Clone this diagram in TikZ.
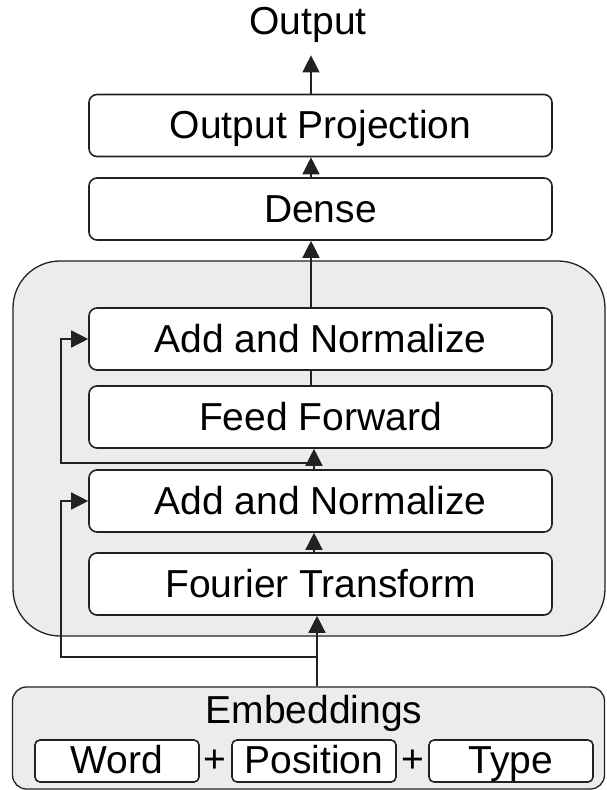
\documentclass[tikz,border=0pt]{standalone}
\usepackage{fontspec}
\setmainfont{Liberation Sans}
\usetikzlibrary{arrows.meta}
\definecolor{blockgray}{HTML}{ECECEC}
\definecolor{linegray}{HTML}{222222}

\begin{document}
\begin{tikzpicture}[x=1pt,y=-1pt,>={Triangle[length=17pt,width=17pt]},->,
  line width=1.4pt,every edge/.append style={draw=linegray},
  main node/.style={rectangle,rounded corners=8pt,draw=linegray,fill=white,line width=1.6pt,
    minimum width=463pt,minimum height=62pt,text height=28pt,text depth=2pt,
    font=\fontsize{39}{45}\selectfont},
  small node/.style={rectangle,rounded corners=5pt,draw=linegray,fill=white,line width=1.6pt,
    minimum width=164pt,minimum height=42pt,inner sep=0pt,text height=28pt,text depth=4pt,
    font=\fontsize{39}{45}\selectfont},
  text node/.style={font=\fontsize{39}{45}\selectfont}]

  \useasboundingbox (0,0) rectangle (607,790);

  % mixing block
  \draw[-,fill=blockgray,draw=linegray,line width=1.3pt,rounded corners=47pt]
    (13,261) rectangle (605,636);

  \node[text node,inner sep=12pt] (out) at (308,25) {Output};
  \node[main node] (proj) at (320.5,125.5) {Output Projection};
  \node[main node] (dense) at (320.5,209) {Dense};
  \node[main node] (an2) at (320.5,339) {Add and Normalize};
  \node[main node] (ff) at (320.5,417) {Feed Forward};
  \node[main node] (an1) at (320.5,501) {Add and Normalize};
  \node[main node] (fft) at (320.5,584) {Fourier Transform};

  % embeddings
  \node[draw=linegray,fill=blockgray,line width=1.3pt,rounded corners=14pt,
    minimum width=592pt,minimum height=102pt] (emb) at (308.5,738) {};
  \node[text node] (embtxt) at (314,713) {Embeddings};
  \node[small node] (word) at (117,761) {Word};
  \node[small node] (pos) at (314,761) {Position};
  \node[small node] (type) at (511,761) {Type};
  \node[text node,inner sep=0pt] (plus1) at (215,761) {+};
  \node[text node,inner sep=0pt] (plus2) at (413,761) {+};

  \coordinate (split1) at (317,657);
  \coordinate (split2) at (314,463);
  \coordinate (mid) at (311,0);

  \path
    (emb.north -| split1) edge (fft.south -| split1)
    (fft.north -| split2) edge (an1.south -| split2)
    (an1.north -| split2) edge (ff.south -| split2)
    (ff.north -| mid) edge[-] (an2.south -| mid)
    (an2.north -| mid) edge (dense.south -| mid)
    (dense.north -| mid) edge (proj.south -| mid)
    (proj.north -| mid) edge (out.south -| mid);

  % residual connections
  \draw[draw=linegray] (split1) -- ++(-256,0) |- (an1.west);
  \draw[draw=linegray] (split2) -- ++(-253,0) |- (an2.west);
\end{tikzpicture}
\end{document}
